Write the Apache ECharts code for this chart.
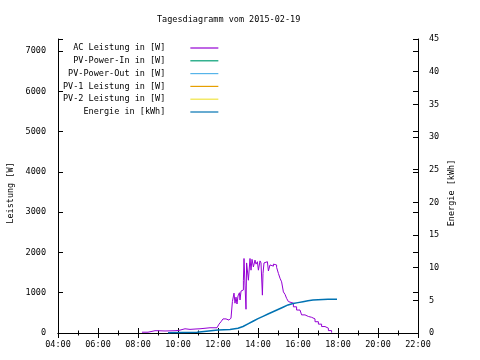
<!DOCTYPE html>
<html>
<head>
<meta charset="utf-8">
<script src="https://cdn.jsdelivr.net/npm/echarts@6/dist/echarts.min.js"></script>
<style>html,body{margin:0;padding:0;background:#fff}#c{width:480px;height:360px}</style>
</head>
<body>
<div id="c"></div>
<script>
// ---- data (time in hours of day) ----
var titleText = 'Tagesdiagramm vom 2015-02-19';
var seriesNames = ['AC Leistung in [W]', 'PV-Power-In in [W]', 'PV-Power-Out in [W]', 'PV-1 Leistung in [W]', 'PV-2 Leistung in [W]', 'Energie in [kWh]'];
var seriesColors = ['#9400d3', '#009e73', '#56b4e9', '#e69f00', '#f0e442', '#0072b2'];
var leftAxisName = 'Leistung [W]';
var rightAxisName = 'Energie [kWh]';

var acTime = [8.2, 8.5, 8.85, 9.0, 9.1, 9.35, 9.85, 10.05, 10.35, 10.6, 10.9, 11.1, 11.6, 11.95,
  12.05, 12.15, 12.25, 12.4, 12.55, 12.65, 12.72, 12.8, 12.85, 12.9, 12.95, 13.0, 13.07, 13.1, 13.15,
  13.23, 13.27, 13.3, 13.35, 13.4, 13.43, 13.52, 13.6, 13.65, 13.7, 13.77, 13.85, 13.9, 13.97, 14.02,
  14.1, 14.15, 14.22, 14.25, 14.3, 14.4, 14.47, 14.52, 14.6, 14.68, 14.77, 14.85, 14.93, 15.02, 15.1,
  15.18, 15.27, 15.35, 15.43, 15.52, 15.6, 15.77, 15.93, 16.1, 16.18, 16.35, 16.52, 16.68, 16.85,
  17.02, 17.18, 17.35, 17.52, 17.68];
var acPower = [20, 57, 57, 80, 50, 57, 65, 105, 90, 100, 105, 130, 130, 130,
  220, 280, 350, 320, 335, 370, 780, 990, 740, 890, 720, 920, 1000, 820, 1040,
  1070, 1310, 1850, 1190, 590, 1740, 1310, 1850, 1560, 1830, 1640, 1810, 1710, 1770, 1560,
  1790, 1740, 940, 1480, 1740, 1770, 1730, 1540, 1690, 1660, 1710, 1690, 1630, 1480, 1360,
  1270, 1020, 960, 860, 780, 740, 650, 570, 550, 450, 410, 390, 350, 280,
  220, 160, 120, 60, 10];

var enTime = [9.5, 10.95, 11.0, 12.0, 12.6, 13.0, 13.25, 13.5, 13.75, 14.0, 14.25, 14.5, 14.75, 15.0,
  15.25, 15.5, 15.75, 16.0, 16.25, 16.5, 16.75, 17.0, 17.5, 17.95];
var enValue = [0.05, 0.1, 0.3, 0.45, 0.55, 0.72, 1.0, 1.4, 1.8, 2.2, 2.55, 2.9, 3.25, 3.6,
  3.95, 4.3, 4.5, 4.65, 4.8, 4.95, 5.05, 5.1, 5.15, 5.15];

var xMin = 4, xMax = 22, xStep = 2;
var yMax = 7300, yStep = 1000;
var y2Max = 45, y2Step = 5;

function zip(a, b) { return a.map(function (v, i) { return [v, b[i]]; }); }

var FONT = 'DejaVu Sans Mono';
var fs = 8.5;

var chart = echarts.init(document.getElementById('c'), null, {renderer: 'canvas'});
var tickStyle = {color: '#000', width: 1};
var option = {
  animation: false,
  backgroundColor: '#fff',
  title: {
    text: titleText, left: 152, top: 10,
    textStyle: {fontFamily: FONT, fontSize: fs, fontWeight: 'normal', color: '#000'}
  },
  grid: {left: 58, right: 62, top: 39, bottom: 27},
  legend: {
    orient: 'vertical', align: 'right', left: 58, top: 37.5,
    icon: 'rect', itemWidth: 28, itemHeight: 1.2, itemGap: 1.8,
    data: seriesNames,
    textStyle: {fontFamily: FONT, fontSize: fs, color: '#000', lineHeight: 11, padding: [0, 20, 0, 0]}
  },
  graphic: [
    {type: 'text', rotation: Math.PI / 2, x: 10.5, y: 193,
      style: {text: leftAxisName, font: fs + 'px ' + FONT, fill: '#000', align: 'center', verticalAlign: 'middle'}},
    {type: 'text', rotation: Math.PI / 2, x: 451.5, y: 193,
      style: {text: rightAxisName, font: fs + 'px ' + FONT, fill: '#000', align: 'center', verticalAlign: 'middle'}}
  ],
  xAxis: [{
    type: 'value', min: xMin, max: xMax, interval: xStep,
    axisLine: {show: true, lineStyle: {color: '#000', width: 1}},
    axisTick: {show: true, inside: true, length: 5, lineStyle: tickStyle},
    minorTick: {show: true, splitNumber: 2, length: 2.5, lineStyle: tickStyle},
    splitLine: {show: false},
    axisLabel: {fontFamily: FONT, fontSize: fs, color: '#000', margin: 7,
      formatter: function (v) { return (v < 10 ? '0' : '') + v + ':00'; }}
  }, {
    type: 'value', position: 'top', min: xMin, max: xMax, interval: xStep,
    axisLine: {show: true, lineStyle: {color: '#000', width: 1}},
    axisTick: {show: true, inside: true, length: 5, lineStyle: tickStyle},
    minorTick: {show: true, splitNumber: 2, length: 2.5, lineStyle: tickStyle},
    splitLine: {show: false}, axisLabel: {show: false}
  }],
  yAxis: [{
    type: 'value', min: 0, max: yMax, interval: yStep,
    axisLine: {show: true, lineStyle: {color: '#000', width: 1}},
    axisTick: {show: true, inside: true, length: 5, lineStyle: tickStyle},
    splitLine: {show: false},
    axisLabel: {fontFamily: FONT, fontSize: fs, color: '#000', margin: 12,
      formatter: function (v) { return v % 1000 === 0 ? String(v) : ''; }}
  }, {
    type: 'value', position: 'right', min: 0, max: y2Max, interval: y2Step,
    axisLine: {show: true, lineStyle: {color: '#000', width: 1}},
    axisTick: {show: true, inside: true, length: 5, lineStyle: tickStyle},
    splitLine: {show: false},
    axisLabel: {fontFamily: FONT, fontSize: fs, color: '#000', margin: 11}
  }, {
    type: 'value', position: 'right', min: 0, max: yMax, interval: yStep,
    axisLine: {show: false},
    axisTick: {show: true, inside: true, length: 5, lineStyle: tickStyle},
    splitLine: {show: false}, axisLabel: {show: false}
  }],
  series: [
    {name: seriesNames[0], type: 'line', step: 'end', xAxisIndex: 0, yAxisIndex: 0, showSymbol: false,
      color: seriesColors[0], lineStyle: {width: 1, color: seriesColors[0]}, data: zip(acTime, acPower)},
    {name: seriesNames[1], type: 'line', yAxisIndex: 0, showSymbol: false, color: seriesColors[1], lineStyle: {width: 1}, data: []},
    {name: seriesNames[2], type: 'line', yAxisIndex: 0, showSymbol: false, color: seriesColors[2], lineStyle: {width: 1}, data: []},
    {name: seriesNames[3], type: 'line', yAxisIndex: 0, showSymbol: false, color: seriesColors[3], lineStyle: {width: 1}, data: []},
    {name: seriesNames[4], type: 'line', yAxisIndex: 0, showSymbol: false, color: seriesColors[4], lineStyle: {width: 1}, data: []},
    {name: seriesNames[5], type: 'line', xAxisIndex: 0, yAxisIndex: 1, showSymbol: false,
      color: seriesColors[5], lineStyle: {width: 1.5, color: seriesColors[5]}, data: zip(enTime, enValue)}
  ]
};
chart.setOption(option);
</script>
</body>
</html>
